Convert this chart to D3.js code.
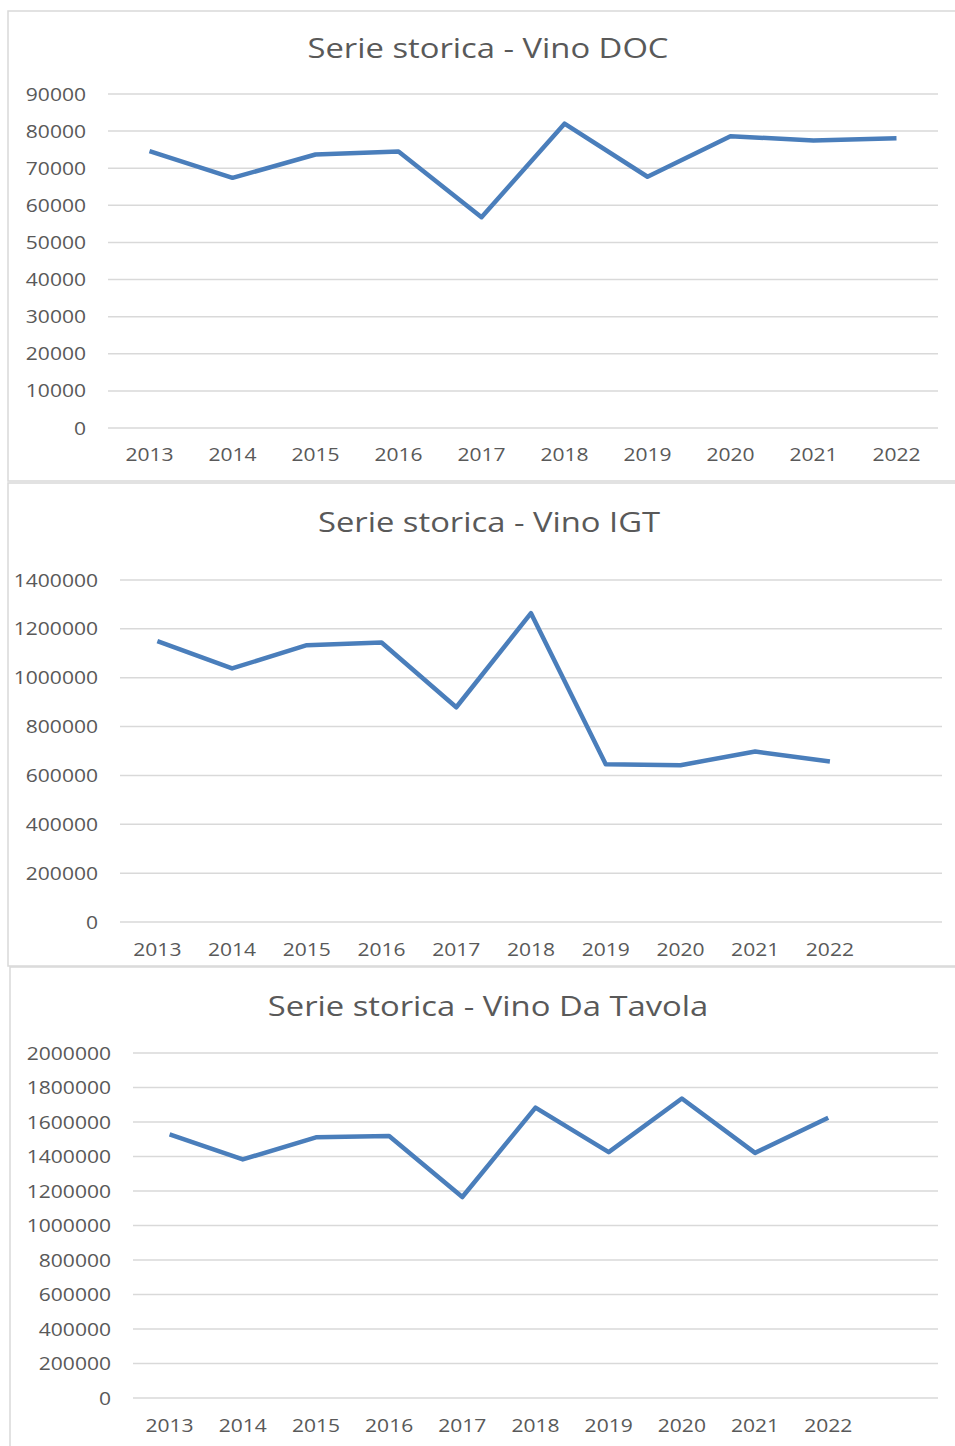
<!DOCTYPE html>
<html>
<head>
<meta charset="utf-8">
<script src="https://cdn.jsdelivr.net/npm/d3@7"></script>
<style>
  html, body { margin: 0; padding: 0; background: #fff; }
  svg { display: block; }
  text { font-family: "Open Sans", "Liberation Sans", sans-serif; fill: #595959; }
</style>
</head>
<body>
<svg id="chart" width="955" height="1446"></svg>
<script>
// ---- data ----
const years = ["2013","2014","2015","2016","2017","2018","2019","2020","2021","2022"];
const docValues = [74600, 67400, 73700, 74500, 56800, 82000, 67700, 78600, 77500, 78100];
const igtValues = [1150000, 1038000, 1133000, 1144000, 879000, 1264000, 646000, 642000, 698000, 657000];
const tavolaValues = [1528000, 1383000, 1511000, 1519000, 1165000, 1683000, 1425000, 1736000, 1421000, 1625000];
const docTicks = [0, 10000, 20000, 30000, 40000, 50000, 60000, 70000, 80000, 90000];
const igtTicks = [0, 200000, 400000, 600000, 800000, 1000000, 1200000, 1400000];
const tavolaTicks = [0, 200000, 400000, 600000, 800000, 1000000, 1200000, 1400000, 1600000, 1800000, 2000000];
const titles = ["Serie storica - Vino DOC", "Serie storica - Vino IGT", "Serie storica - Vino Da Tavola"];

// ---- layout ----
const panels = [
  { title: titles[0], values: docValues, ticks: docTicks, cats: years,
    box: [8, 11, 960, 470], titleX: 488, titleY: 58,
    x0: 108, x1: 938, yTop: 94, yBot: 428, labelRight: 86, xLabelY: 461 },
  { title: titles[1], values: igtValues, ticks: igtTicks, cats: years.concat([""]),
    box: [8, 483, 960, 483], titleX: 489, titleY: 532,
    x0: 120, x1: 942, yTop: 580, yBot: 922, labelRight: 98, xLabelY: 956 },
  { title: titles[2], values: tavolaValues, ticks: tavolaTicks, cats: years.concat([""]),
    box: [10, 967, 960, 490], titleX: 488, titleY: 1016,
    x0: 133, x1: 938, yTop: 1053, yBot: 1398, labelRight: 111, xLabelY: 1432 }
];

const svg = d3.select("#chart");
const SX = 1.17; // horizontal stretch of text glyphs

function stretchedText(g, x, y, str, anchor, size) {
  return g.append("text")
    .attr("transform", `translate(${x},${y}) scale(${SX},1)`)
    .attr("text-anchor", anchor)
    .attr("font-size", size)
    .text(str);
}

panels.forEach(p => {
  const g = svg.append("g");
  g.append("rect")
    .attr("x", p.box[0]).attr("y", p.box[1])
    .attr("width", p.box[2]).attr("height", p.box[3])
    .attr("fill", "#fff").attr("stroke", "#d9d9d9").attr("stroke-width", 1.5);

  const x = d3.scaleBand().domain(p.cats).range([p.x0, p.x1]);
  const yMax = p.ticks[p.ticks.length - 1];
  const y = d3.scaleLinear().domain([0, yMax]).range([p.yBot, p.yTop]);

  // gridlines
  g.selectAll("line.grid").data(p.ticks).join("line")
    .attr("class", "grid")
    .attr("x1", p.x0).attr("x2", p.x1)
    .attr("y1", d => y(d)).attr("y2", d => y(d))
    .attr("stroke", "#d9d9d9").attr("stroke-width", 1.5);

  // y labels
  p.ticks.forEach(t => {
    stretchedText(g, p.labelRight, y(t) + 6.5, String(t), "end", 18);
  });
  // x labels
  years.forEach(c => {
    stretchedText(g, x(c) + x.bandwidth() / 2, p.xLabelY, c, "middle", 18);
  });

  // title
  stretchedText(g, p.titleX, p.titleY, p.title, "middle", 28);

  // line
  const line = d3.line()
    .x((d, i) => x(years[i]) + x.bandwidth() / 2)
    .y(d => y(d));
  g.append("path")
    .datum(p.values)
    .attr("d", line)
    .attr("fill", "none")
    .attr("stroke", "#4a7ebb")
    .attr("stroke-width", 4.5)
    .attr("stroke-linejoin", "round");
});
</script>
</body>
</html>
